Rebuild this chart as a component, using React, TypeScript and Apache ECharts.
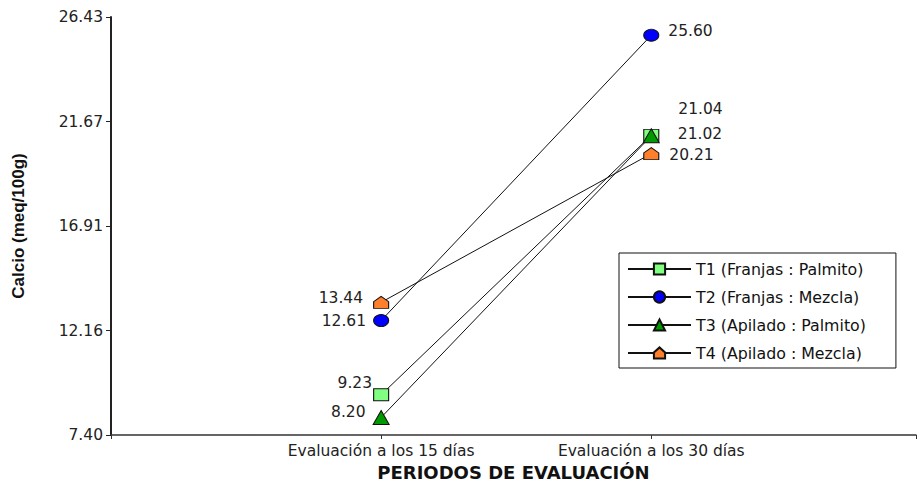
import React, { useEffect, useRef } from "react";
import * as echarts from "echarts";

const categories = ["Evaluación a los 15 días", "Evaluación a los 30 días"];
const seriesNames = [
  "T1 (Franjas : Palmito)",
  "T2 (Franjas : Mezcla)",
  "T3 (Apilado : Palmito)",
  "T4 (Apilado : Mezcla)",
];
const t1 = [9.23, 21.04];
const t2 = [12.61, 25.6];
const t3 = [8.2, 21.02];
const t4 = [13.44, 20.21];
const yTickLabels = ["7.40", "12.16", "16.91", "21.67", "26.43"];
const yMin = 7.4;
const yMax = 26.43;

export default function App() {
  const ref = useRef<HTMLDivElement>(null);
  useEffect(() => {
    if (!ref.current) return;
    const chart = echarts.init(ref.current, null, { renderer: "svg" });
    const font = "DejaVu Sans, sans-serif";
    const house = "path://M0,10 L0,4.5 L5,0 L10,4.5 L10,10 Z";
    const styles = [
      { color: "#80ff80", symbol: "rect", size: [15, 12] },
      { color: "#0000ff", symbol: "circle", size: [15, 12] },
      { color: "#009900", symbol: "triangle", size: [16, 14] },
      { color: "#ff7f2a", symbol: house, size: [15, 12] },
    ];
    const labelCfg = [
      [
        { position: "left", distance: 1, offset: [0, -12] },
        { position: "right", distance: 19, offset: [0, -26] },
      ],
      [
        { position: "left", distance: 7, offset: [0, 0] },
        { position: "right", distance: 9, offset: [0, -4] },
      ],
      [
        { position: "left", distance: 7, offset: [0, -5] },
        { position: "right", distance: 18, offset: [0, -2] },
      ],
      [
        { position: "left", distance: 10, offset: [0, -4] },
        { position: "right", distance: 10, offset: [0, 1] },
      ],
    ];
    const allData = [t1, t2, t3, t4];
    const series = allData.map((vals, si) => ({
      name: seriesNames[si],
      type: "line",
      symbol: styles[si].symbol,
      symbolSize: styles[si].size,
      lineStyle: { color: "#111", width: 1 },
      itemStyle: { color: styles[si].color, borderColor: "#111", borderWidth: 1 },
      data: vals.map((v, i) => ({
        value: [i + 1, v],
        label: {
          show: true,
          formatter: v.toFixed(2),
          position: labelCfg[si][i].position,
          distance: labelCfg[si][i].distance,
          offset: labelCfg[si][i].offset,
          color: "#222",
          fontSize: 15.5,
          fontFamily: font,
        },
      })),
    }));
    const yInterval = (yMax - yMin) / 4;
    chart.setOption({
      animation: false,
      backgroundColor: "#fff",
      grid: { left: 111, right: 1, top: 17, bottom: 51, outerBoundsMode: "none" },
      legend: {
        orient: "vertical",
        left: 619,
        top: 253,
        data: seriesNames,
        itemWidth: 63,
        itemHeight: 14,
        itemGap: 12,
        padding: [8, 30, 7, 8],
        borderColor: "#111",
        borderWidth: 1,
        textStyle: { fontSize: 15.8, lineHeight: 14, color: "#111", fontFamily: font },
      },
      xAxis: {
        type: "value",
        min: 0,
        max: 2.98,
        interval: 1,
        splitLine: { show: false },
        axisLine: { lineStyle: { color: "#333", width: 1.5 } },
        axisTick: { show: true, length: 4, lineStyle: { color: "#333" } },
        axisLabel: {
          fontSize: 15.5,
          color: "#222",
          fontFamily: font,
          margin: 8,
          formatter: (v: number) => (v === 1 || v === 2 ? categories[v - 1] : ""),
        },
        name: "PERIODOS DE EVALUACIÓN",
        nameLocation: "middle",
        nameGap: 27,
        nameTextStyle: { fontSize: 18, fontWeight: "bold", color: "#111", fontFamily: font },
      },
      yAxis: {
        type: "value",
        min: yMin,
        max: yMax,
        interval: yInterval,
        splitLine: { show: false },
        axisLine: { show: true, lineStyle: { color: "#222", width: 2 } },
        axisTick: { show: true, length: 5, lineStyle: { color: "#222" } },
        axisLabel: {
          fontSize: 15.5,
          color: "#222",
          fontFamily: font,
          margin: 8,
          formatter: (v: number) => {
            const idx = Math.round((v - yMin) / yInterval);
            return yTickLabels[idx] ?? "";
          },
        },
        name: "Calcio (meq/100g)",
        nameLocation: "middle",
        nameGap: 84,
        nameTextStyle: {
          fontSize: 17,
          fontWeight: "bold",
          color: "#111",
          fontFamily: "Liberation Sans, Arial, sans-serif",
        },
      },
      series,
    });
    return () => chart.dispose();
  }, []);
  return (
    <div
      ref={ref}
      style={{ position: "fixed", left: 0, top: 0, width: 917, height: 486, background: "#fff" }}
    />
  );
}
